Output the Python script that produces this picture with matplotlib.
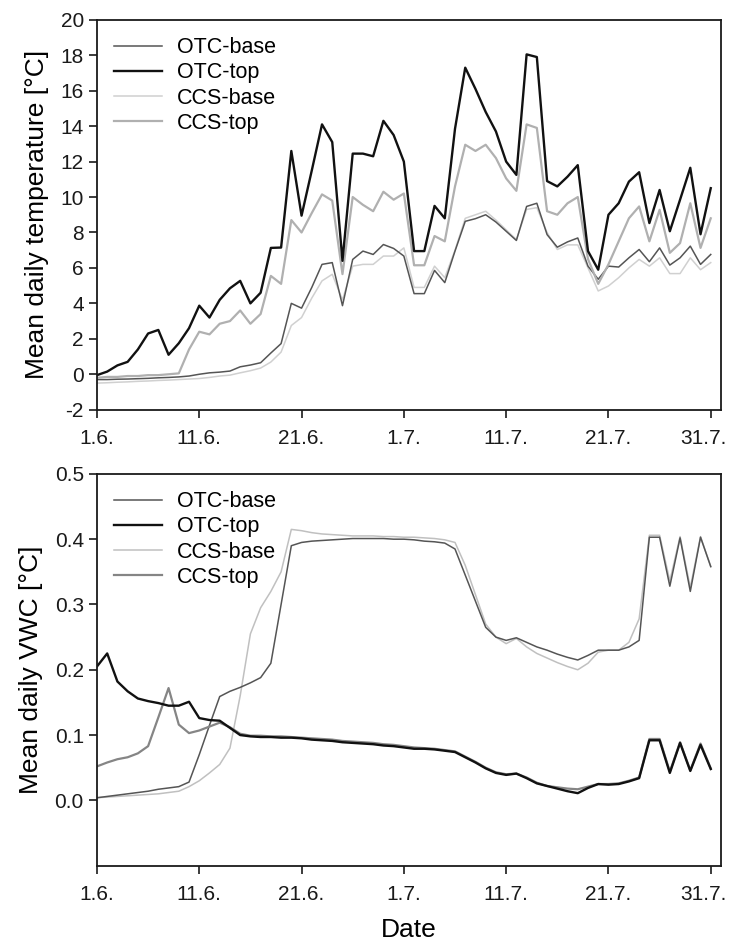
import numpy as np
import matplotlib
matplotlib.use('Agg')
import matplotlib.pyplot as plt
from matplotlib.transforms import ScaledTranslation

plt.rcParams['font.family'] = ['Liberation Sans', 'DejaVu Sans']
plt.rcParams['axes.unicode_minus'] = False

# day index 0 = 1.6., 60 = 31.7.
days = np.arange(61)
tick_labels = ['1.6.', '11.6.', '21.6.', '1.7.', '11.7.', '21.7.', '31.7.']
series = ['OTC-base', 'OTC-top', 'CCS-base', 'CCS-top']

# mean daily temperature [°C]
temp_otc_base = [-0.3, -0.3, -0.28, -0.27, -0.25, -0.23, -0.2, -0.18, -0.15, -0.1,
                 0.0, 0.08, 0.12, 0.18, 0.42, 0.52, 0.65, 1.2, 1.73, 4.0,
                 3.73, 4.9, 6.2, 6.3, 3.87, 6.48, 6.95, 6.76, 7.32, 7.1,
                 6.67, 4.55, 4.55, 5.86, 5.17, 6.95, 8.63, 8.78, 9.0, 8.59,
                 8.07, 7.55, 9.47, 9.65, 7.88, 7.17, 7.47, 7.69, 6.1, 5.36,
                 6.1, 6.05, 6.57, 7.04, 6.35, 7.13, 6.16, 6.57, 7.23, 6.2, 6.76]
temp_otc_top = [-0.05, 0.15, 0.5, 0.7, 1.4, 2.3, 2.5, 1.1, 1.75, 2.6,
                3.87, 3.2, 4.2, 4.85, 5.27, 4.0, 4.6, 7.13, 7.15, 12.6,
                8.95, 11.5, 14.1, 13.1, 6.4, 12.45, 12.45, 12.3, 14.3, 13.5,
                12.0, 6.95, 6.95, 9.5, 8.8, 13.85, 17.3, 16.1, 14.8, 13.7,
                12.0, 11.25, 18.05, 17.9, 10.9, 10.6, 11.15, 11.8, 6.95, 5.9,
                9.0, 9.65, 10.87, 11.4, 8.53, 10.4, 8.07, 9.85, 11.65, 7.9, 10.5]
temp_ccs_base = [-0.5, -0.48, -0.45, -0.43, -0.4, -0.38, -0.35, -0.33, -0.3, -0.27,
                 -0.24, -0.18, -0.1, -0.05, 0.08, 0.2, 0.35, 0.69, 1.25, 2.75,
                 3.2, 4.3, 5.27, 5.64, 4.2, 6.1, 6.2, 6.2, 6.67, 6.67,
                 7.13, 4.9, 4.9, 6.1, 5.45, 7.0, 8.8, 9.0, 9.2, 8.7,
                 8.15, 7.6, 9.3, 9.4, 8.0, 7.04, 7.3, 7.3, 6.0, 4.7,
                 4.98, 5.45, 6.0, 6.48, 6.1, 6.57, 5.68, 5.68, 6.57, 5.9, 6.3]
temp_ccs_top = [-0.2, -0.15, -0.15, -0.1, -0.1, -0.05, -0.05, 0.0, 0.05, 1.4,
                2.4, 2.25, 2.85, 3.0, 3.6, 2.85, 3.4, 5.55, 5.1, 8.7,
                8.0, 9.1, 10.15, 9.8, 5.65, 10.0, 9.56, 9.2, 10.3, 9.85,
                10.2, 6.15, 6.15, 7.8, 7.5, 10.6, 12.95, 12.6, 12.95, 12.2,
                11.05, 10.35, 14.1, 13.9, 9.2, 9.0, 9.65, 10.0, 6.5, 5.1,
                6.2, 7.5, 8.8, 9.47, 7.5, 9.28, 6.85, 7.4, 9.65, 7.13, 8.8]

# mean daily VWC
vwc_otc_base = [0.004, 0.006, 0.008, 0.010, 0.012, 0.014, 0.017, 0.019, 0.021, 0.028,
                0.07, 0.115, 0.159, 0.167, 0.173, 0.180, 0.188, 0.21, 0.30, 0.39,
                0.395, 0.397, 0.398, 0.399, 0.400, 0.401, 0.401, 0.401, 0.401, 0.400,
                0.400, 0.399, 0.397, 0.396, 0.394, 0.385, 0.345, 0.305, 0.265, 0.25,
                0.245, 0.249, 0.242, 0.235, 0.23, 0.224, 0.219, 0.215, 0.222, 0.23,
                0.23, 0.23, 0.235, 0.245, 0.403, 0.403, 0.328, 0.402, 0.32, 0.403, 0.358]
vwc_otc_top = [0.205, 0.225, 0.182, 0.167, 0.156, 0.152, 0.149, 0.145, 0.145, 0.151,
               0.126, 0.123, 0.122, 0.111, 0.100, 0.098, 0.097, 0.097, 0.096, 0.096,
               0.095, 0.093, 0.092, 0.091, 0.089, 0.088, 0.087, 0.086, 0.084, 0.083,
               0.081, 0.079, 0.079, 0.078, 0.076, 0.074, 0.066, 0.058, 0.049, 0.042,
               0.039, 0.041, 0.034, 0.026, 0.022, 0.018, 0.014, 0.011, 0.019, 0.025,
               0.024, 0.025, 0.029, 0.034, 0.092, 0.092, 0.042, 0.088, 0.045, 0.085, 0.048]
vwc_ccs_base = [0.004, 0.005, 0.006, 0.007, 0.008, 0.009, 0.010, 0.012, 0.014, 0.021,
                0.03, 0.042, 0.055, 0.08, 0.16, 0.255, 0.295, 0.32, 0.35, 0.415,
                0.413, 0.410, 0.408, 0.407, 0.406, 0.405, 0.405, 0.405, 0.404, 0.404,
                0.403, 0.403, 0.402, 0.401, 0.399, 0.395, 0.36, 0.315, 0.27, 0.25,
                0.24, 0.248, 0.235, 0.225, 0.218, 0.211, 0.205, 0.2, 0.21, 0.227,
                0.23, 0.23, 0.242, 0.278, 0.406, 0.406, 0.336, 0.404, 0.326, 0.404, 0.358]
vwc_ccs_top = [0.052, 0.058, 0.063, 0.066, 0.072, 0.083, 0.127, 0.172, 0.116, 0.103,
               0.107, 0.113, 0.119, 0.112, 0.102, 0.099, 0.099, 0.098, 0.098, 0.097,
               0.096, 0.095, 0.094, 0.093, 0.091, 0.090, 0.089, 0.088, 0.086, 0.085,
               0.083, 0.081, 0.080, 0.079, 0.077, 0.075, 0.067, 0.059, 0.050, 0.043,
               0.040, 0.041, 0.035, 0.027, 0.022, 0.020, 0.018, 0.017, 0.021, 0.025,
               0.025, 0.026, 0.030, 0.035, 0.094, 0.094, 0.044, 0.089, 0.046, 0.087, 0.049]


def style_axes(ax):
    ax.set_xlim(0, 61)
    ax.set_xticks(np.arange(0, 61, 10))
    ax.set_xticklabels(tick_labels)
    for s in ax.spines.values():
        s.set_linewidth(1.3)
        s.set_color('#1a1a1a')
    ax.tick_params(direction='out', length=6, width=1.2, labelsize=15, colors='#1a1a1a')
    ax.tick_params(axis='x', pad=8)
    # last date label sits tight against the right edge, nudge it left a bit
    last = ax.get_xticklabels()[-1]
    last.set_transform(last.get_transform() + ScaledTranslation(-0.07, 0, fig.dpi_scale_trans))


def draw_panel(ax, data, colors, widths):
    order = [2, 0, 3, 1]  # black on top
    lines = {}
    for i in order:
        ln, = ax.plot(days, data[i], color=colors[i], lw=widths[i], label=series[i])
        lines[i] = ln
    ax.legend([lines[i] for i in range(4)], series, loc='upper left',
              bbox_to_anchor=(0.0, 1.0), frameon=False, fontsize=15.5,
              handlelength=2.2, handletextpad=0.7, labelspacing=0.2,
              borderaxespad=0.4, borderpad=0.4)


fig = plt.figure(figsize=(7.29, 9.44), dpi=100)
ax1 = fig.add_axes([0.133, 0.566, 0.856, 0.413])
ax2 = fig.add_axes([0.133, 0.083, 0.856, 0.415])

draw_panel(ax1, [temp_otc_base, temp_otc_top, temp_ccs_base, temp_ccs_top],
           ['#555555', '#111111', '#d0d0d0', '#b0b0b0'], [1.1, 1.7, 1.1, 1.6])
style_axes(ax1)
ax1.set_ylim(-2, 20)
ax1.set_yticks(np.arange(-2, 21, 2))
ax1.set_ylabel('Mean daily temperature [°C]', fontsize=19, labelpad=8)

draw_panel(ax2, [vwc_otc_base, vwc_otc_top, vwc_ccs_base, vwc_ccs_top],
           ['#555555', '#111111', '#c0c0c0', '#858585'], [1.1, 1.7, 1.1, 1.6])
style_axes(ax2)
ax2.set_ylim(-0.1, 0.5)
ax2.set_yticks(np.arange(0, 0.51, 0.1))
ax2.set_yticklabels(['0.0', '0.1', '0.2', '0.3', '0.4', '0.5'])
ax2.set_ylabel('Mean daily VWC [°C]', fontsize=19, labelpad=8)
ax2.set_xlabel('Date', fontsize=19, labelpad=10)

fig.savefig('out.png', dpi=100)
